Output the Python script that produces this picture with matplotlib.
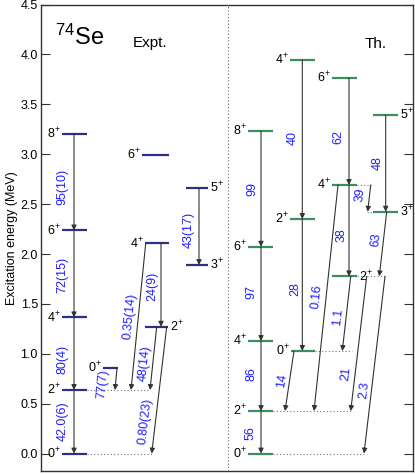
import numpy as np
import matplotlib
matplotlib.use('Agg')
import matplotlib.pyplot as plt

plt.rcParams['font.family'] = ['Liberation Sans', 'DejaVu Sans']
plt.rcParams['mathtext.fontset'] = 'custom'
plt.rcParams['mathtext.rm'] = 'Liberation Sans'
plt.rcParams['mathtext.it'] = 'Liberation Sans'

# level energies (MeV) and spins
expt_spin = ['0', '2', '4', '6', '8', '0', '2', '4', '6', '3', '5']
expt_energy = [0.0, 0.637, 1.365, 2.236, 3.200, 0.860, 1.271, 2.107, 2.990, 1.890, 2.659]

th_spin = ['0', '2', '4', '6', '8', '4', '2', '0', '6', '4', '2', '5', '3']
th_energy = [0.0, 0.426, 1.128, 2.073, 3.233, 3.945, 2.351, 1.028,
             3.767, 2.692, 1.776, 3.394, 2.424]

# transitions: (from level, to level) and B(E2) labels
expt_from = [4, 3, 2, 1, 5, 7, 7, 6, 6, 10]
expt_to = [3, 2, 1, 0, 1, 1, 6, 1, 0, 9]
expt_be2 = ['95(10)', '72(15)', '80(4)', '42.0(6)', '77(7)', '0.35(14)',
            '24(9)', '48(14)', '0.80(23)', '43(17)']

th_from = [4, 3, 2, 1, 5, 6, 7, 8, 9, 9, 10, 10, 10, 11, 12, 9]
th_to = [3, 2, 1, 0, 6, 7, 1, 9, 10, 1, 7, 1, 0, 12, 10, 12]
th_be2 = ['99', '97', '86', '56', '40', '28', '14', '62', '38', '0.16',
          '1.1', '21', '2.3', '48', '63', '39']

# layout (x in pixel-like units of the axes)
expt_lev_x = [(62, 87, 'l'), (62, 87, 'l'), (62, 87, 'l'), (62, 87, 'l'), (62, 87, 'l'),
              (103, 118, 'l'), (145, 168, 'r'), (145, 169, 'l'), (142, 169, 'l'),
              (186, 208, 'r'), (186, 208, 'r')]
th_lev_x = [(248, 273, 'l'), (248, 273, 'l'), (248, 273, 'l'), (248, 273, 'l'), (248, 273, 'l'),
            (290, 315, 'l'), (290, 315, 'l'), (291, 315, 'l'),
            (332, 357, 'l'), (332, 357, 'l'), (332, 357, 'r'),
            (373, 398, 'r'), (373, 398, 'r')]

# (x start, x end, label x, label y)
expt_arr = [(74, 74, 62, 2.67), (74, 74, 62, 1.79), (74, 74, 62, 0.94), (74, 74, 63, 0.32),
            (117, 115, 102.5, 0.70), (145.7, 131, 129.5, 1.378), (161, 161, 152.5, 1.672),
            (156.7, 150, 145, 0.907), (166.7, 151.7, 145, 0.319), (199, 199, 189, 2.24)]
th_arr = [(261, 261, 252, 2.65), (261, 261, 251, 1.62), (261, 261, 251, 0.797),
          (261, 261, 251, 0.21), (302.3, 302.3, 292.3, 3.16), (302.3, 302.3, 295, 1.65),
          (294, 285, 282.5, 0.727), (349, 349, 338.5, 3.17), (349, 349, 341.7, 2.19),
          (338, 314, 317, 1.572), (350.7, 342.3, 338, 1.371), (366.7, 350.7, 346.5, 0.80),
          (385, 364, 364, 0.637), (385.7, 385.7, 378, 2.91), (386.7, 379.3, 376, 2.14),
          (370.7, 367.7, 360.7, 2.59)]

# dotted guide lines (x0, x1, level energy)
expt_dots = [(87, 150, expt_energy[1]), (87, 152, expt_energy[0])]
th_dots = [(273, 352, th_energy[1]), (273, 364, th_energy[0]), (315, 352, th_energy[7]),
           (357, 385, th_energy[10]), (357, 371, th_energy[9]), (367, 373, th_energy[12])]

fig = plt.figure(figsize=(4.15, 4.74), dpi=100)
ax = fig.add_axes([40.7 / 415, 3.0 / 474, (413.3 - 40.7) / 415, (471 - 4.6) / 474])
ax.set_xlim(40.7, 413.3)
ax.set_ylim(-0.175, 4.5)

navy = '#2e2e86'
green = '#3a8f5f'
blue = '#1f1fff'
fs = 9


def draw_levels(spins, energies, layout, color):
    for s, e, (x0, x1, side) in zip(spins, energies, layout):
        ax.plot([x0, x1], [e, e], color=color, lw=1.6, solid_capstyle='butt', zorder=3)
        lab = s + r'$^{+}$'
        if side == 'l':
            ax.text(x0 - 1, e, lab, ha='right', va='center', fontsize=fs)
        else:
            ax.text(x1 + 1.5, e, lab, ha='left', va='center', fontsize=fs)


def draw_arrows(froms, tos, labels, energies, layout):
    for i, j, lab, (xs, xe, lx, ly) in zip(froms, tos, labels, layout):
        e0, e1 = energies[i], energies[j]
        ax.annotate('', xy=(xe, e1), xytext=(xs, e0),
                    arrowprops=dict(arrowstyle='-|>', color='#333333', lw=0.8,
                                    mutation_scale=7.5, shrinkA=0, shrinkB=0),
                    zorder=4)
        p0 = ax.transData.transform((xs, e0))
        p1 = ax.transData.transform((xe, e1))
        ang = np.degrees(np.arctan2(p0[1] - p1[1], p0[0] - p1[0]))
        ax.text(lx, ly, lab, color=blue, fontsize=fs, rotation=ang,
                rotation_mode='anchor', ha='center', va='center')


for x0, x1, e in expt_dots + th_dots:
    ax.plot([x0, x1], [e, e], color='#777777', lw=0.8, ls=(0, (1, 2)), zorder=2)

draw_levels(expt_spin, expt_energy, expt_lev_x, navy)
draw_levels(th_spin, th_energy, th_lev_x, green)
draw_arrows(expt_from, expt_to, expt_be2, expt_energy, expt_arr)
draw_arrows(th_from, th_to, th_be2, th_energy, th_arr)

ax.axvline(228.3, color='#666666', lw=0.8, ls=(0, (1, 2)))

ax.text(55, 4.17, r'$^{74}$Se', fontsize=17, ha='left', va='center')
ax.text(133, 4.12, 'Expt.', fontsize=11, ha='left', va='center')
ax.text(365, 4.105, 'Th.', fontsize=11, ha='left', va='center')

ax.set_yticks(np.arange(0, 4.51, 0.5))
ax.set_yticklabels(['%.1f' % v for v in np.arange(0, 4.51, 0.5)])
ax.set_xticks([])
ax.tick_params(axis='y', direction='in', length=6.5, width=0.8, right=True,
               labelsize=fs, pad=2, color='#333333')
ax.set_ylabel('Excitation energy (MeV)', fontsize=fs, labelpad=2)
for sp in ax.spines.values():
    sp.set_color('#333333')
    sp.set_linewidth(1.0)

fig.savefig('out.png', dpi=100)
